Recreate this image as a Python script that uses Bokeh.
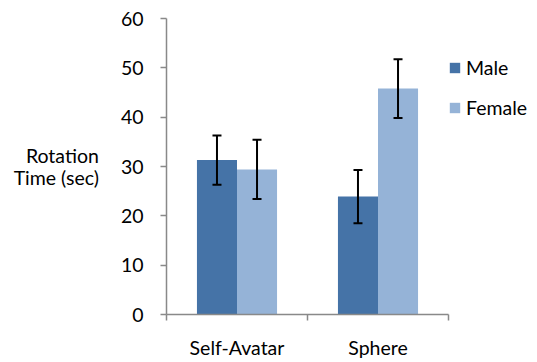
import numpy as np
from bokeh.plotting import figure
from bokeh.models import (ColumnDataSource, Range1d, FixedTicker, Whisker, TeeHead,
                          Legend, LegendItem)
from bokeh.embed import file_html
from bokeh.resources import INLINE

categories = ["Self-Avatar", "Sphere"]
male_values = [31.3, 23.9]
male_errors = [5.0, 5.4]
female_values = [29.4, 45.8]
female_errors = [6.0, 5.95]
y_ticks = [0, 10, 20, 30, 40, 50, 60]

MALE_COLOR = "#4573A7"
FEMALE_COLOR = "#95B3D7"
FONT = "Lato"
FS = "19.5px"

centers = np.arange(len(categories)) + 0.5
bar_w = 0.284
off = bar_w / 2

male_src = ColumnDataSource(dict(
    x=centers - off, top=male_values,
    upper=[v + e for v, e in zip(male_values, male_errors)],
    lower=[v - e for v, e in zip(male_values, male_errors)]))
female_src = ColumnDataSource(dict(
    x=centers + off, top=female_values,
    upper=[v + e for v, e in zip(female_values, female_errors)],
    lower=[v - e for v, e in zip(female_values, female_errors)]))

p = figure(frame_width=282, frame_height=296, output_backend="svg", toolbar_location=None,
           x_range=Range1d(0, len(categories)), y_range=Range1d(0, 60))
p.min_border_left = 166
p.min_border_right = 89
p.min_border_top = 18
p.min_border_bottom = 48
p.outline_line_color = None
p.xgrid.visible = False
p.ygrid.visible = False
p.background_fill_color = "white"
p.border_fill_color = "white"

rm = p.vbar(x="x", top="top", width=bar_w, source=male_src, fill_color=MALE_COLOR, line_color=None)
rf = p.vbar(x="x", top="top", width=bar_w, source=female_src, fill_color=FEMALE_COLOR, line_color=None)

for src in (male_src, female_src):
    w = Whisker(base="x", upper="upper", lower="lower", source=src,
                line_color="black", line_width=2, level="overlay",
                upper_head=TeeHead(size=9, line_color="black", line_width=2),
                lower_head=TeeHead(size=9, line_color="black", line_width=2))
    p.add_layout(w)

AX = "#898989"
# y axis
ya = p.yaxis[0]
ya.ticker = FixedTicker(ticks=y_ticks)
ya.axis_line_color = AX
ya.axis_line_width = 1.5
ya.major_tick_line_color = AX
ya.major_tick_line_width = 1.5
ya.major_tick_out = 6
ya.major_tick_in = 0
ya.minor_tick_line_color = None
ya.major_label_text_font = FONT
ya.major_label_text_font_size = FS
ya.major_label_text_color = "black"
ya.major_label_standoff = 17
ya.axis_label = "Rotation\nTime (sec)"
ya.axis_label_text_font = FONT
ya.axis_label_text_font_size = FS
ya.axis_label_text_font_style = "normal"
ya.axis_label_text_color = "black"
ya.axis_label_standoff = 19
ya.axis_label_text_line_height = 0.93
ya.axis_label_text_align = "center"
ya.axis_label_orientation = "horizontal"

# x axis
xa = p.xaxis[0]
xa.ticker = FixedTicker(ticks=list(centers), minor_ticks=list(np.arange(len(categories) + 1)))
xa.major_label_overrides = {float(c): cat for c, cat in zip(centers, categories)}
xa.axis_line_color = AX
xa.axis_line_width = 1.5
xa.major_tick_line_color = None
xa.minor_tick_line_color = AX
xa.minor_tick_line_width = 1.5
xa.minor_tick_out = 6
xa.minor_tick_in = 0
xa.major_tick_out = 0
xa.major_tick_in = 0
xa.major_label_text_font = FONT
xa.major_label_text_font_size = FS
xa.major_label_text_color = "black"
xa.major_label_standoff = 15

legend = Legend(items=[LegendItem(label="Male", renderers=[rm]),
                       LegendItem(label="Female", renderers=[rf])],
                location="top_left")
legend.border_line_color = None
legend.background_fill_alpha = 0
legend.padding = 0
legend.margin = 0
legend.glyph_width = 13
legend.glyph_height = 13
legend.label_height = 20
legend.spacing = 17
legend.label_standoff = 5
legend.label_text_font = FONT
legend.label_text_font_size = FS
legend.label_text_color = "black"
legend.label_text_baseline = "middle"
legend.title = " "
legend.title_text_font_size = "1px"
legend.title_standoff = 37
p.add_layout(legend, "right")

open("out.html", "w").write(file_html(p, INLINE))
